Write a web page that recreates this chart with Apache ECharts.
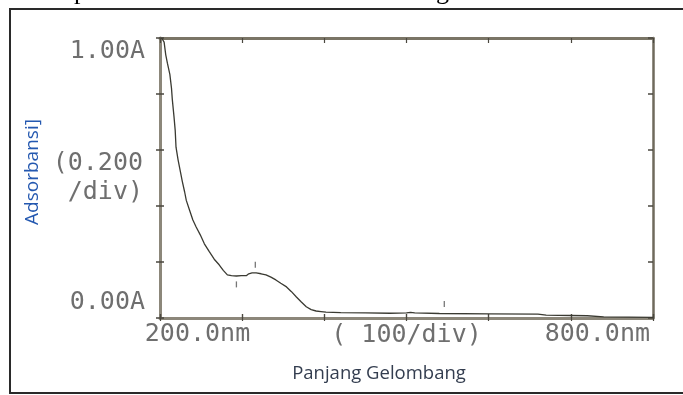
<!DOCTYPE html>
<html>
<head>
<meta charset="utf-8">
<script src="https://cdn.jsdelivr.net/npm/echarts@6/dist/echarts.min.js"></script>
<style>
html,body{margin:0;padding:0;background:#fff;}
#chart{width:683px;height:395px;}
</style>
</head>
<body>
<div id="chart"></div>
<script>
// Wavelength (nm) and absorbance (A)
const wavelength = [202,205,207,209,212,214,215,217,218.5,219.5,222,225,227,230,232,236,240,244,249,254,260,266,272,277,282,287,293,299,305,308,312,317,323,329,335,341,347,354,360,366,372,378,384,390,396,402,420,450,480,500,505,510,540,600,660,670,700,720,740,800];
const absorbance = [1.0,0.985,0.94,0.91,0.87,0.82,0.78,0.72,0.67,0.61,0.565,0.52,0.49,0.45,0.42,0.385,0.35,0.325,0.297,0.265,0.237,0.21,0.19,0.17,0.154,0.151,0.15,0.151,0.151,0.158,0.161,0.161,0.158,0.154,0.146,0.136,0.124,0.111,0.094,0.075,0.057,0.04,0.03,0.025,0.023,0.021,0.019,0.018,0.017,0.018,0.02,0.018,0.016,0.015,0.014,0.01,0.009,0.008,0.004,0.002];
// Small printer peak markers
const markX = [293, 316, 546];
const markY = [0.12, 0.19, 0.05];
// Tick labels
const xLabelValues = [200, 800];
const xLabelTexts = ['200.0nm', '800.0nm'];
const yLabelValues = [0, 1];
const yLabelTexts = ['0.00A', '1.00A'];
const xAxisName = '( 100/div)';
const yAxisName = '(0.200\n/div)';
const yTitle = 'Adsorbansi]';
const xTitle = 'Panjang Gelombang';

const lineData = wavelength.map((w, i) => [w, absorbance[i]]);
const markData = markX.map((w, i) => [w, markY[i]]);

const AX = '#8c877a';
const TK = '#4a473f';
const LBL = '#6f6f6f';
const MONO = 'DejaVu Sans Mono';

function baseX(extra) {
  return Object.assign({
    type: 'value', min: 200, max: 800, interval: 100,
    splitLine: {show: false},
    axisLine: {show: false},
    axisTick: {show: false},
    axisLabel: {show: false}
  }, extra);
}
function baseY(extra) {
  return Object.assign({
    type: 'value', min: 0, max: 1, interval: 0.2,
    splitLine: {show: false},
    axisLine: {show: false},
    axisTick: {show: false},
    axisLabel: {show: false}
  }, extra);
}

const chart = echarts.init(document.getElementById('chart'));
chart.setOption({
  backgroundColor: '#fff',
  animation: false,
  grid: {left: 160, right: 30, top: 38, bottom: 77, containLabel: false, outerBoundsMode: 'none'},
  xAxis: [
    baseX({
      position: 'bottom',
      axisLine: {show: true, onZero: false, lineStyle: {color: AX, width: 3}},
      axisTick: {show: true, inside: true, length: 4, lineStyle: {color: TK, width: 1.2}},
      axisLabel: {
        show: true, margin: 2,
        alignMinLabel: 'center', alignMaxLabel: 'right',
        formatter: function (v) {
          const i = xLabelValues.indexOf(v);
          if (i < 0) return '';
          return (i === 0 ? '{a|' : '{b|') + xLabelTexts[i] + '}';
        },
        rich: {
          a: {fontFamily: MONO, fontSize: 25, color: LBL, padding: [0, 0, 0, 75], lineHeight: 28},
          b: {fontFamily: MONO, fontSize: 25, color: LBL, padding: [0, 3, 0, 0], lineHeight: 28}
        }
      },
      name: xAxisName, nameLocation: 'middle', nameGap: 3, nameMoveOverlap: false,
      nameTextStyle: {fontFamily: MONO, fontSize: 25, color: LBL, verticalAlign: 'top', lineHeight: 28}
    }),
    baseX({position: 'bottom', axisTick: {show: true, inside: false, length: 3, lineStyle: {color: TK, width: 1.2}}}),
    baseX({
      position: 'top',
      axisLine: {show: true, onZero: false, lineStyle: {color: '#7a7566', width: 3}},
      axisTick: {show: true, inside: true, length: 5, lineStyle: {color: TK, width: 1.2}}
    }),
    baseX({position: 'top', axisTick: {show: true, inside: false, length: 4, lineStyle: {color: TK, width: 1.2}}})
  ],
  yAxis: [
    baseY({
      position: 'left',
      axisLine: {show: true, onZero: false, lineStyle: {color: AX, width: 3}},
      axisTick: {show: true, inside: true, length: 4, lineStyle: {color: TK, width: 1.5}},
      axisLabel: {
        show: true, margin: 15,
        formatter: function (v) {
          const i = yLabelValues.indexOf(Math.round(v * 1000) / 1000);
          if (i < 0) return '';
          return (i === 0 ? '{lo|' : '{hi|') + yLabelTexts[i] + '}';
        },
        rich: {
          lo: {fontFamily: MONO, fontSize: 25, color: LBL, padding: [0, 0, 32, 0], lineHeight: 28},
          hi: {fontFamily: MONO, fontSize: 25, color: LBL, padding: [26, 0, 0, 0], lineHeight: 28}
        }
      },
      name: yAxisName, nameLocation: 'middle', nameGap: 17, nameRotate: 0, nameMoveOverlap: false,
      nameTextStyle: {fontFamily: MONO, fontSize: 25, color: LBL, align: 'right', lineHeight: 29, padding: [0, 0, 9, 0]}
    }),
    baseY({position: 'left', axisTick: {show: true, inside: false, length: 4, lineStyle: {color: TK, width: 1.5}}}),
    baseY({
      position: 'right',
      axisLine: {show: true, onZero: false, lineStyle: {color: '#6f6a5c', width: 2.5}},
      axisTick: {show: true, inside: true, length: 5, lineStyle: {color: TK, width: 1.5}}
    })
  ],
  series: [
    {
      type: 'line', xAxisIndex: 0, yAxisIndex: 0,
      data: lineData, symbol: 'none', smooth: false,
      lineStyle: {color: '#3a3a32', width: 1.3},
      z: 5
    },
    {
      type: 'scatter', xAxisIndex: 0, yAxisIndex: 0,
      data: markData, symbol: 'rect', symbolSize: [1.3, 6],
      itemStyle: {color: '#555'}, silent: true
    }
  ],
  graphic: [
    {type: 'rect', shape: {x: 10, y: 9, width: 700, height: 384},
     style: {fill: 'none', stroke: '#2a2a2a', lineWidth: 2}, silent: true},
    {type: 'text', x: 33, y: 172, rotation: Math.PI / 2,
     style: {text: yTitle, fontFamily: 'Open Sans', fontSize: 19, fill: '#2458b0', align: 'center', verticalAlign: 'middle'}},
    {type: 'text', x: 379, y: 374,
     style: {text: xTitle, fontFamily: 'Open Sans', fontSize: 18.5, fill: '#333d4f', align: 'center', verticalAlign: 'middle'}},
    {type: 'text', x: 74, y: 5,
     style: {text: 'p', fontFamily: 'Liberation Serif', fontSize: 26, fill: '#000', align: 'left', verticalAlign: 'bottom'}},
    {type: 'text', x: 436, y: 5,
     style: {text: 'g', fontFamily: 'Liberation Serif', fontSize: 26, fill: '#000', align: 'left', verticalAlign: 'bottom'}}
  ]
});
</script>
</body>
</html>
